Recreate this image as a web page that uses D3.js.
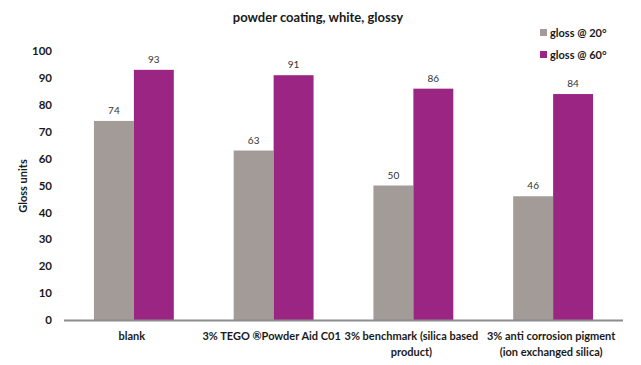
<!DOCTYPE html>
<html>
<head>
<meta charset="utf-8">
<script src="https://cdn.jsdelivr.net/npm/d3@7"></script>
<style>
    body { margin: 0; background: #fff; }
    svg { display: block; font-family: Lato, "Open Sans", sans-serif; }
</style>
</head>
<body>
<svg width="641" height="365"></svg>
<script>
const categories = [
    ["blank"],
    ["3% TEGO \u00AEPowder Aid C01"],
    ["3% benchmark (silica based", "product)"],
    ["3% anti corrosion pigment", "(ion exchanged silica)"]
];
const series_names = ["gloss @ 20\u00B0", "gloss @ 60\u00B0"];
const gloss_20 = [74, 63, 50, 46];
const gloss_60 = [93, 91, 86, 84];
const y_ticks = [0, 10, 20, 30, 40, 50, 60, 70, 80, 90, 100];

const colors = ["#a29b98", "#9b2582"];
const series = [gloss_20, gloss_60];

const svg = d3.select("svg");
const margin = { left: 64, right: 18, top: 51, bottom: 45 };
const width = 641, height = 365;

const x = d3.scaleBand()
    .domain(d3.range(categories.length))
    .range([margin.left, width - margin.right]);

const x_inner = d3.scaleBand()
    .domain(d3.range(series.length))
    .range([0, x.bandwidth()])
    .paddingOuter(0.75);

const y = d3.scaleLinear()
    .domain([0, 100])
    .range([height - margin.bottom, margin.top]);

// title
svg.append("text")
    .attr("x", 318)
    .attr("y", 22)
    .attr("text-anchor", "middle")
    .attr("font-size", 13)
    .attr("font-weight", "bold")
    .attr("fill", "#1a1a1a")
    .text("powder coating, white, glossy");

// y axis labels
svg.append("g")
    .attr("transform", `translate(${margin.left - 12},0)`)
    .call(d3.axisLeft(y).tickValues(y_ticks).tickSize(0).tickPadding(0))
    .call(g => g.select(".domain").remove())
    .selectAll("text")
    .attr("font-family", "Lato, 'Open Sans', sans-serif")
    .attr("font-size", 11.5)
    .attr("font-weight", "bold")
    .attr("fill", "#1a1a1a");

svg.append("text")
    .attr("transform", `translate(27,${186}) rotate(-90)`)
    .attr("text-anchor", "middle")
    .attr("font-size", 11)
    .attr("font-weight", "bold")
    .attr("fill", "#1a1a1a")
    .text("Gloss units");

// bars
const groups = svg.append("g")
    .selectAll("g")
    .data(categories.map((c, i) => i))
    .join("g")
    .attr("transform", i => `translate(${x(i)},0)`);

groups.selectAll("rect")
    .data(i => series.map((s, k) => ({ k, v: s[i] })))
    .join("rect")
    .attr("x", d => x_inner(d.k))
    .attr("width", x_inner.bandwidth())
    .attr("y", d => y(d.v))
    .attr("height", d => y(0) - y(d.v))
    .attr("fill", d => colors[d.k]);

groups.selectAll("text.value")
    .data(i => series.map((s, k) => ({ k, v: s[i] })))
    .join("text")
    .classed("value", true)
    .attr("x", d => x_inner(d.k) + x_inner.bandwidth() / 2)
    .attr("y", d => y(d.v) - 7)
    .attr("text-anchor", "middle")
    .attr("font-size", 10)
    .attr("fill", "#333")
    .text(d => d.v);

// x axis line
svg.append("line")
    .attr("x1", margin.left)
    .attr("x2", width - margin.right)
    .attr("y1", y(0) + 0.5)
    .attr("y2", y(0) + 0.5)
    .attr("stroke", "#8c8c8c")
    .attr("stroke-width", 2);

// category labels
groups.append("text")
    .attr("x", x.bandwidth() / 2 - 2)
    .attr("text-anchor", "middle")
    .attr("font-size", 11)
    .attr("font-weight", "bold")
    .attr("fill", "#1a1a1a")
    .selectAll("tspan")
    .data(i => categories[i])
    .join("tspan")
    .attr("x", x.bandwidth() / 2 - 2)
    .attr("y", (d, j) => 340 + j * 16)
    .text(d => d);

// legend
const legend = svg.append("g")
    .selectAll("g")
    .data(series_names)
    .join("g")
    .attr("transform", (d, i) => `translate(540,${33 + i * 22})`);

legend.append("rect")
    .attr("x", 0)
    .attr("y", -4)
    .attr("width", 7)
    .attr("height", 7)
    .attr("fill", (d, i) => colors[i]);

legend.append("text")
    .attr("x", 10)
    .attr("y", 4)
    .attr("font-size", 11)
    .attr("font-weight", "bold")
    .attr("fill", "#1a1a1a")
    .text(d => d);
</script>
</body>
</html>
